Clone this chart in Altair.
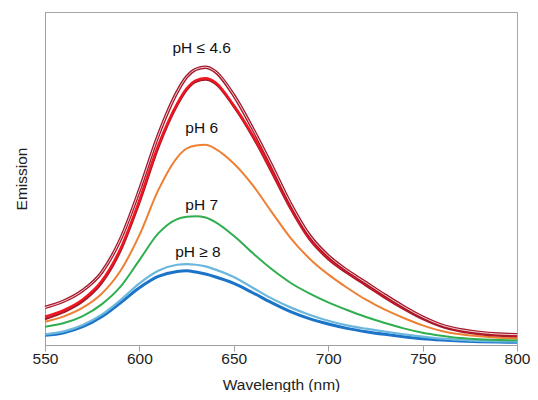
import altair as alt
import pandas as pd

wavelength = [550, 560, 570, 580, 590, 600, 610, 620, 625, 630, 635, 640, 650, 660,
              670, 680, 690, 700, 710, 720, 730, 740, 750, 760, 770, 780, 790, 800]

ph_low_a = [11.3, 13.2, 16.4, 21.8, 31.8, 46.5, 63.0, 76.0, 80.5, 82.8, 83.4, 82.2, 75.0, 65.0,
            54.0, 42.5, 33.0, 26.8, 22.4, 18.7, 15.0, 11.5, 8.4, 6.0, 4.6, 3.8, 3.3, 3.1]
ph_low_b = [8.5, 10.5, 13.7, 19.2, 29.0, 43.5, 60.0, 72.5, 77.0, 79.5, 80.1, 79.0, 72.0, 63.0,
            52.5, 41.5, 32.2, 26.2, 22.0, 18.3, 14.6, 11.2, 8.2, 5.9, 4.4, 3.6, 3.1, 2.9]
ph_low_c = [7.8, 9.9, 13.1, 18.6, 28.3, 42.8, 59.3, 72.0, 76.6, 79.1, 79.7, 78.6, 71.6, 62.6,
            52.0, 41.0, 31.8, 25.8, 21.6, 17.9, 14.2, 10.8, 7.8, 5.5, 4.1, 3.3, 2.8, 2.6]
ph_6 = [7.0, 8.6, 11.2, 15.4, 22.3, 33.0, 46.5, 56.3, 59.0, 59.9, 60.1, 59.0, 54.5, 48.0,
        40.0, 32.2, 26.0, 21.2, 17.2, 13.6, 10.6, 8.1, 5.9, 4.2, 3.2, 2.6, 2.2, 2.0]
ph_7 = [5.5, 6.6, 8.7, 12.2, 17.5, 25.5, 33.5, 37.8, 38.5, 38.7, 38.3, 37.0, 32.8, 27.6,
        22.8, 18.7, 15.5, 12.8, 10.5, 8.4, 6.6, 5.0, 3.7, 2.8, 2.1, 1.7, 1.5, 1.4]
ph_8 = [3.2, 4.1, 6.0, 9.1, 13.5, 18.5, 22.3, 24.1, 24.3, 24.1, 23.6, 22.7, 20.4, 17.2,
        14.0, 11.3, 9.1, 7.3, 5.9, 4.9, 4.0, 3.2, 2.5, 1.9, 1.5, 1.2, 1.1, 1.0]
ph_9 = [2.9, 3.7, 5.5, 8.5, 12.7, 17.2, 20.6, 22.1, 22.3, 21.9, 21.3, 20.5, 18.5, 15.7,
        12.7, 10.0, 7.9, 6.3, 5.0, 4.0, 3.2, 2.5, 1.9, 1.5, 1.2, 1.0, 0.9, 0.8]

label_text = ["pH \u2264 4.6", "pH 6", "pH 7", "pH \u2265 8"]
label_wl = [633, 633, 633, 631]
label_val = [89.2, 65.2, 42.0, 27.9]

x_ticks = [550, 600, 650, 700, 750, 800]

xscale = alt.Scale(domain=[550, 800], nice=False, zero=False)
yscale = alt.Scale(domain=[0, 100], nice=False)

FONT = "Liberation Sans"
xaxis = alt.Axis(values=x_ticks, title="Wavelength (nm)", grid=False,
                 domainColor="#a0a0a0", tickColor="#a0a0a0", tickSize=6,
                 labelFlush=False, labelOverlap=False,
                 labelFont=FONT, labelFontSize=15.5, labelColor="#222222",
                 labelPadding=0, titleFont=FONT, titleFontSize=15.5,
                 titleFontWeight="normal", titleColor="#222222", titlePadding=11)
yaxis = alt.Axis(title="Emission", grid=False, ticks=False, labels=False,
                 domainColor="#a0a0a0", titleFont=FONT, titleFontSize=15.5,
                 titleFontWeight="normal", titleColor="#222222", titlePadding=16)


def line(values, color, width):
    df = pd.DataFrame({"wl": wavelength, "v": values})
    return alt.Chart(df).mark_line(color=color, strokeWidth=width,
                                   interpolate="monotone").encode(
        x=alt.X("wl:Q", scale=xscale, axis=xaxis),
        y=alt.Y("v:Q", scale=yscale, axis=yaxis),
    )


layers = [
    line(ph_9, "#1b74c8", 3.0),
    line(ph_8, "#6cb7dd", 2.2),
    line(ph_7, "#2fae50", 2.0),
    line(ph_6, "#ee8034", 2.0),
    line(ph_low_c, "#a11a2c", 2.4),
    line(ph_low_b, "#f0161f", 2.4),
    line(ph_low_a, "#a3182c", 3.4),
    line(ph_low_a, "#f6d0d0", 1.0),
]

labels_df = pd.DataFrame({"t": label_text, "wl": label_wl, "v": label_val})
labels = alt.Chart(labels_df).mark_text(
    font=FONT, fontSize=15.5, color="#111111", align="center", baseline="middle"
).encode(x=alt.X("wl:Q", scale=xscale, axis=xaxis),
         y=alt.Y("v:Q", scale=yscale, axis=yaxis), text="t:N")

chart = alt.layer(*layers, labels).properties(
    width=472, height=333,
    padding={"left": 37, "top": 4, "right": 13, "bottom": 47},
    autosize="none",
).configure_view(stroke="#a6a6a6", strokeWidth=1)

chart.save("out.html", embed_options={"renderer": "svg", "actions": False})
